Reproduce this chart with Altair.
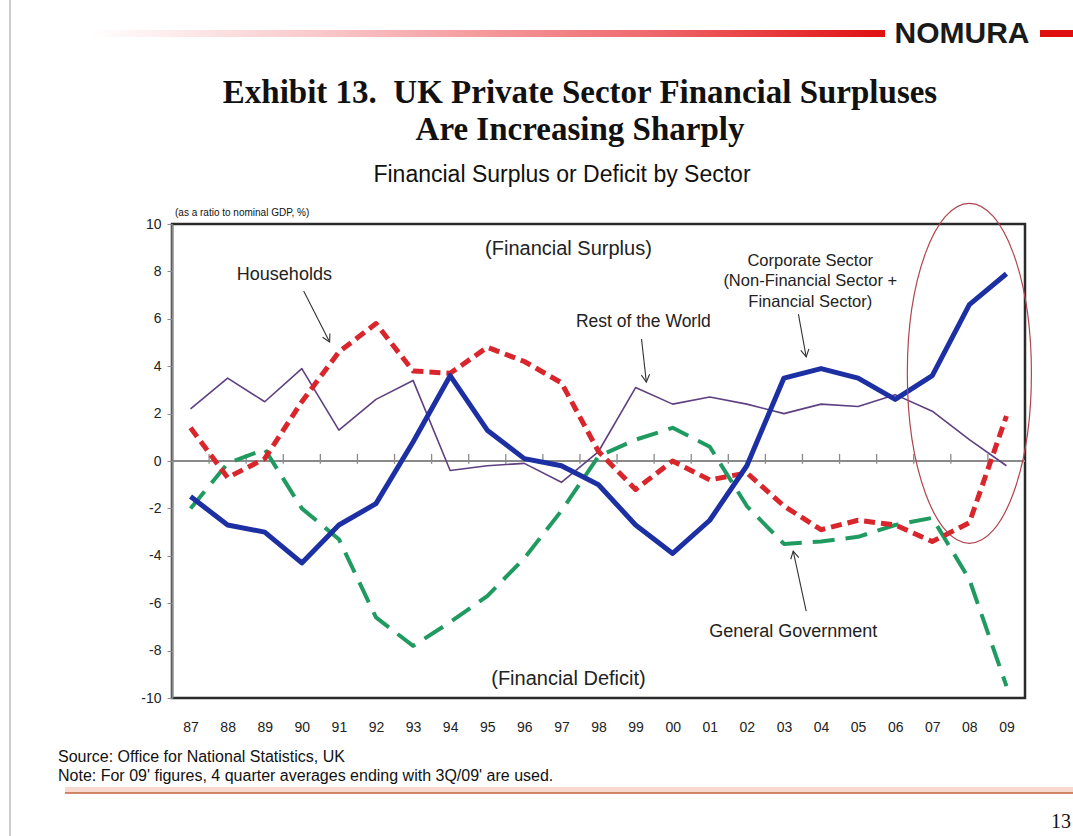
import math
import altair as alt
import pandas as pd

# ---------------- data ----------------
YEARS = ["87", "88", "89", "90", "91", "92", "93", "94", "95", "96", "97", "98",
         "99", "00", "01", "02", "03", "04", "05", "06", "07", "08", "09"]
CORPORATE = [-1.5, -2.7, -3.0, -4.3, -2.7, -1.8, 0.8, 3.6, 1.3, 0.1, -0.2, -1.0,
             -2.7, -3.9, -2.5, -0.2, 3.5, 3.9, 3.5, 2.6, 3.6, 6.6, 7.9]
HOUSEHOLDS = [1.4, -0.7, 0.1, 2.5, 4.6, 5.8, 3.8, 3.7, 4.8, 4.2, 3.3, 0.4,
              -1.2, 0.0, -0.8, -0.5, -1.9, -2.9, -2.5, -2.7, -3.4, -2.6, 1.9]
GOVERNMENT = [-2.0, -0.1, 0.5, -2.0, -3.3, -6.6, -7.8, -6.8, -5.7, -4.1, -2.1, 0.2,
              0.9, 1.4, 0.6, -1.9, -3.5, -3.4, -3.2, -2.7, -2.4, -5.0, -9.5]
REST_OF_WORLD = [2.2, 3.5, 2.5, 3.9, 1.3, 2.6, 3.4, -0.4, -0.2, -0.1, -0.9, 0.4,
                 3.1, 2.4, 2.7, 2.4, 2.0, 2.4, 2.3, 2.8, 2.1, 0.9, -0.2]

Y_TICKS = [-10, -8, -6, -4, -2, 0, 2, 4, 6, 8, 10]

SERIES = [
    # name, values, color, width, dash
    ("Rest of the World", REST_OF_WORLD, "#5e4080", 1.6, None),
    ("General Government", GOVERNMENT, "#1f9a60", 4, [22, 11]),
    ("Households", HOUSEHOLDS, "#d8262c", 5, [11, 6]),
    ("Corporate Sector", CORPORATE, "#1c2fa3", 5, None),
]

# annotation texts (x in year index units, y in % of GDP)
ANNOT_TEXT = [
    ("Households", 2.53, 7.85, 18),
    ("(Financial Surplus)", 10.19, 8.95, 20),
    ("Rest of the World", 12.21, 5.86, 17.5),
    ("General Government", 16.25, -7.22, 18),
    ("(Financial Deficit)", 10.19, -9.2, 20),
]
CORP_TEXT = ["Corporate Sector", "(Non-Financial Sector +", "Financial Sector)"]
CORP_POS = (16.71, 8.45)

ARROWS = [  # x0, y0 -> x1, y1 (tip)
    (3.05, 7.17, 3.75, 5.02),
    (12.16, 5.15, 12.29, 3.33),
    (16.39, 6.2, 16.6, 4.39),
    (16.6, -6.33, 16.25, -3.8),
]
ELLIPSE_CENTER = (21.0, 3.7)

# ---------------- layout ----------------
W, H = 853, 474
PAD_L, PAD_T = 172, 224
N = len(YEARS)
XDOM = [-0.5, N - 0.5]
PX_X = W / N
PX_Y = H / 20.0

xs = alt.Scale(domain=XDOM, nice=False, zero=False)
ys = alt.Scale(domain=[-10, 10], nice=False, zero=False)

label_expr = "[" + ",".join("'%s'" % y for y in YEARS) + "][datum.value]"

XAXIS = alt.Axis(values=list(range(N)), labelExpr=label_expr, ticks=False,
                 domain=False, grid=False, labelFontSize=14, labelColor="#222",
                 labelPadding=22, title=None, labelFont="Liberation Sans",
                 labelOverlap=False)
YAXIS = alt.Axis(values=Y_TICKS, labelExpr="'' + datum.value", grid=False,
                 domain=True, domainColor="#8a8a8a", domainWidth=2,
                 tickColor="#8a8a8a", tickSize=5, labelFontSize=14,
                 labelColor="#222", labelPadding=6, title=None,
                 labelFont="Liberation Sans", labelOverlap=False)


def qx(field):
    return alt.X(field, scale=xs, axis=XAXIS)


def qy(field):
    return alt.Y(field, scale=ys, axis=YAXIS)


layers = []

# zero line
zero_df = pd.DataFrame({"y": [0]})
layers.append(alt.Chart(zero_df).mark_rule(color="#8a8a8a", strokeWidth=2).encode(y=qy("y:Q")))

# ticks on zero line at category boundaries
bnd = pd.DataFrame({"x": [i + 0.5 for i in range(N - 1)], "y0": [-0.12] * (N - 1), "y1": [0.3] * (N - 1)})
layers.append(alt.Chart(bnd).mark_rule(color="#8a8a8a", strokeWidth=1.3).encode(
    x=qx("x:Q"), y=qy("y0:Q"), y2="y1:Q"))

# lines
for name, vals, color, width, dash in SERIES:
    df = pd.DataFrame({"i": list(range(N)), "v": vals, "series": name})
    kw = dict(color=color, strokeWidth=width, strokeJoin="round")
    if dash:
        kw["strokeDash"] = dash
    layers.append(alt.Chart(df).mark_line(**kw).encode(x=qx("i:Q"), y=qy("v:Q")))

# annotation texts
for txt, x, y, fs in ANNOT_TEXT:
    d = pd.DataFrame({"x": [x], "y": [y], "t": [txt]})
    layers.append(alt.Chart(d).mark_text(fontSize=fs, font="Liberation Sans", color="#222",
                                         baseline="middle", align="center").encode(
        x=qx("x:Q"), y=qy("y:Q"), text="t:N"))

cd = pd.DataFrame({"x": [CORP_POS[0]], "y": [CORP_POS[1]], "t": ["\n".join(CORP_TEXT)]})
layers.append(alt.Chart(cd).mark_text(fontSize=16.5, font="Liberation Sans", color="#222",
                                      baseline="middle", align="center", lineBreak="\n",
                                      lineHeight=20.5).encode(
    x=qx("x:Q"), y=qy("y:Q"), text="t:N"))

# arrows
arr = pd.DataFrame(ARROWS, columns=["x0", "y0", "x1", "y1"])
arr["angle"] = [
    (math.degrees(math.atan2(-(r.x1 - r.x0) * PX_X, -(r.y1 - r.y0) * PX_Y)) % 360)
    for r in arr.itertuples()
]
layers.append(alt.Chart(arr).mark_rule(color="#333", strokeWidth=1.1).encode(
    x=qx("x0:Q"), y=qy("y0:Q"), x2="x1:Q", y2="y1:Q"))
layers.append(alt.Chart(arr).mark_point(shape="M -0.55 -1 L 0 0 L 0.55 -1", filled=False,
                                        color="#333", strokeWidth=1.1, size=225, opacity=1).encode(
    x=qx("x1:Q"), y=qy("y1:Q"), angle=alt.Angle("angle:Q", scale=None)))

# ellipse highlight
ed = pd.DataFrame({"x": [ELLIPSE_CENTER[0]], "y": [ELLIPSE_CENTER[1]]})
layers.append(alt.Chart(ed).mark_point(
    shape="M 0 -1 A 0.365 1 0 1 0 0 1 A 0.365 1 0 1 0 0 -1 Z",
    filled=False, color="#b0444e", strokeWidth=1.2, size=340 * 340, opacity=1).encode(
    x=qx("x:Q"), y=qy("y:Q")))

# ---------------- page decorations (pixel positions relative to plot origin) ----------------
def px_text(txt, x, y, size, font="Liberation Sans", weight="normal", align="center", color="#111"):
    return alt.Chart(pd.DataFrame({"t": [txt]})).mark_text(
        fontSize=size, font=font, fontWeight=weight, align=align, baseline="alphabetic",
        color=color).encode(x=alt.value(x), y=alt.value(y), text="t:N")

layers.append(px_text("Exhibit 13.\u00a0\u00a0UK Private Sector Financial Surpluses", 408, -121, 33,
                      font="Liberation Serif", weight="bold"))
layers.append(px_text("Are Increasing Sharply", 408, -84, 33, font="Liberation Serif", weight="bold"))
layers.append(px_text("Financial Surplus or Deficit by Sector", 390, -42, 23))
layers.append(px_text("(as a ratio to nominal GDP, %)", 3, -8, 10, align="left"))
layers.append(px_text("Source: Office for National Statistics, UK", -114, 538, 16, align="left"))
layers.append(px_text("Note: For 09' figures, 4 quarter averages ending with 3Q/09' are used.",
                      -114, 557, 16, align="left"))
layers.append(px_text("NOMURA", 790, -181, 30, weight="bold", color="#1a1a1a"))
layers.append(px_text("13", 899, 604, 20, font="Liberation Serif", align="right"))

grad = alt.Gradient(gradient="linear", x1=0, x2=1, y1=0, y2=0,
                    stops=[alt.GradientStop(color="#ffffff", offset=0),
                           alt.GradientStop(color="#f9c6c8", offset=0.3),
                           alt.GradientStop(color="#ef6a6e", offset=0.7),
                           alt.GradientStop(color="#e01010", offset=1)])
one = pd.DataFrame({"a": [0]})
layers.append(alt.Chart(one).mark_rect(fill=grad).encode(
    x=alt.value(-82), x2=alt.value(713), y=alt.value(-194), y2=alt.value(-187)))
layers.append(alt.Chart(one).mark_rect(color="#e01010").encode(
    x=alt.value(868), x2=alt.value(901), y=alt.value(-194), y2=alt.value(-187)))
layers.append(alt.Chart(one).mark_rule(color="#bbbbbb", strokeWidth=1.5).encode(
    x=alt.value(-162), y=alt.value(-224), y2=alt.value(612)))
layers.append(alt.Chart(one).mark_rule(color="#f7d9d0", strokeWidth=6).encode(
    x=alt.value(-107), x2=alt.value(901), y=alt.value(566)))
layers.append(alt.Chart(one).mark_rule(color="#c0643e", strokeWidth=1.6).encode(
    x=alt.value(-107), x2=alt.value(901), y=alt.value(569)))

chart = alt.layer(*layers).properties(
    width=W, height=H, autosize="none",
    padding={"left": PAD_L, "top": PAD_T, "right": 1073 - PAD_L - W, "bottom": 836 - PAD_T - H},
    background="white",
).configure_view(stroke="#2a2a2a", strokeWidth=2.5)

chart.save("out.html", embed_options={"renderer": "svg", "actions": False})
